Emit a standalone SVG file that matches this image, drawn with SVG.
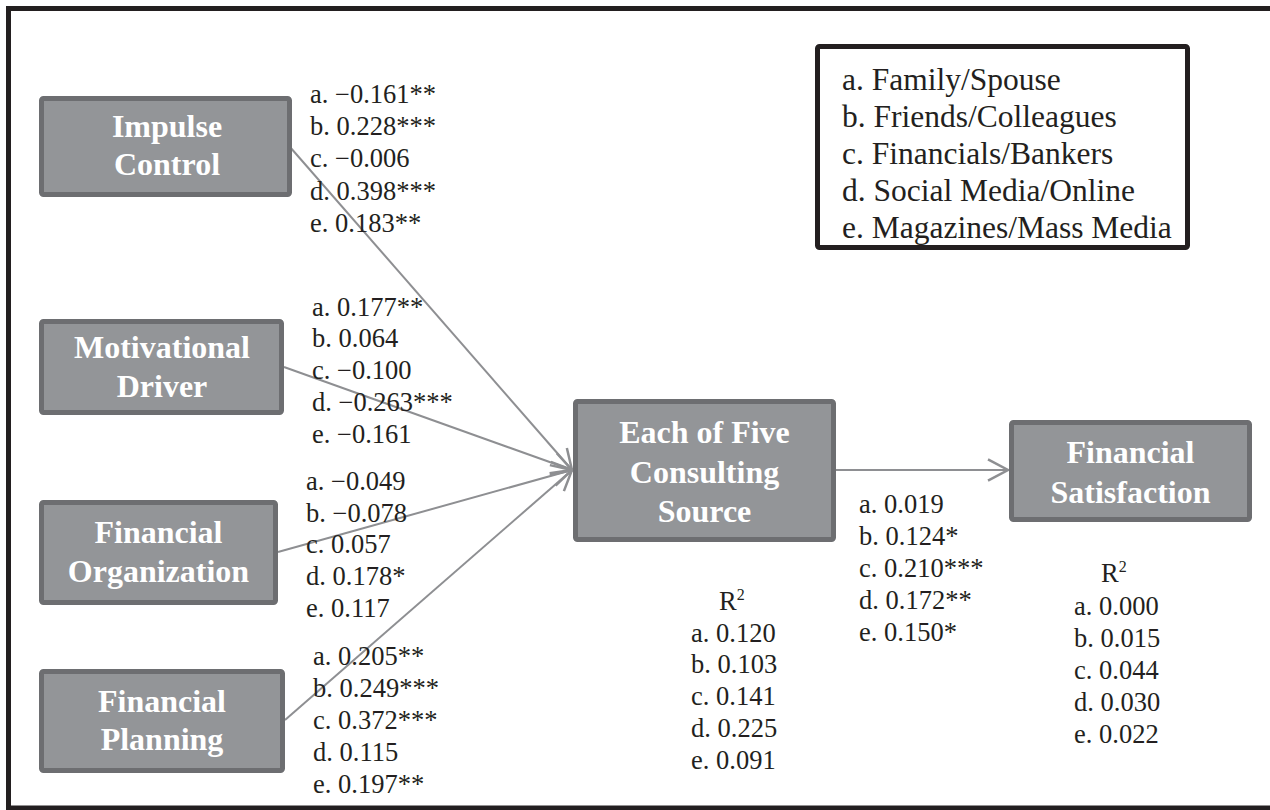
<svg xmlns="http://www.w3.org/2000/svg" width="1270" height="810" viewBox="0 0 1270 810">
<style>
.box{fill:#939598;stroke:#6d6e71;stroke-width:5}
.bt{font-family:"Liberation Serif","Times New Roman",serif;font-weight:bold;font-size:32px;fill:#ffffff;text-anchor:middle}
.lb{font-family:"Liberation Serif","Times New Roman",serif;font-size:26.5px;fill:#231f20}
.lg{font-family:"Liberation Serif","Times New Roman",serif;font-size:31.5px;fill:#231f20}
.sup{font-size:16px}
.cn{stroke:#8e8f92;stroke-width:2;fill:none}
</style>
<defs>
<marker id="ah" markerUnits="userSpaceOnUse" markerWidth="30" markerHeight="30" refX="0" refY="0" viewBox="-20 -12 24 24" orient="auto" overflow="visible">
<path d="M-16,-8.5 L0,0 L-16,8.5" fill="none" stroke="#8e8f92" stroke-width="2"/>
</marker>
</defs>
<rect x="0" y="0" width="1270" height="810" fill="#ffffff"/>
<rect id="frame" x="8.5" y="8.5" width="1280" height="799.5" fill="none" stroke="#231f20" stroke-width="5"/>

<g id="connectors">
<line class="cn" x1="290" y1="147" x2="572" y2="470" marker-end="url(#ah)"/>
<line class="cn" x1="284" y1="367" x2="572" y2="470" marker-end="url(#ah)"/>
<line class="cn" x1="278" y1="552" x2="572" y2="470" marker-end="url(#ah)"/>
<line class="cn" x1="285" y1="720" x2="572" y2="470" marker-end="url(#ah)"/>
<line class="cn" x1="836" y1="470" x2="1008" y2="470" marker-end="url(#ah)"/>
</g>

<g id="impulse-control">
<rect class="box" x="41.5" y="98.5" width="248" height="96" rx="2"/>
<text class="bt" x="167" y="137">Impulse</text>
<text class="bt" x="167" y="175">Control</text>
</g>

<g id="motivational-driver">
<rect class="box" x="41.5" y="321.5" width="240" height="91" rx="2"/>
<text class="bt" x="162" y="358">Motivational</text>
<text class="bt" x="162" y="397">Driver</text>
</g>

<g id="financial-organization">
<rect class="box" x="41.5" y="502.5" width="234" height="100" rx="2"/>
<text class="bt" x="158.5" y="543">Financial</text>
<text class="bt" x="158.5" y="582">Organization</text>
</g>

<g id="financial-planning">
<rect class="box" x="41.5" y="671.5" width="241" height="99" rx="2"/>
<text class="bt" x="162" y="712">Financial</text>
<text class="bt" x="162" y="750">Planning</text>
</g>

<g id="consulting-source">
<rect class="box" x="575.5" y="401.5" width="258" height="138" rx="2"/>
<text class="bt" x="704.5" y="443">Each of Five</text>
<text class="bt" x="704.5" y="482.5">Consulting</text>
<text class="bt" x="704.5" y="522">Source</text>
</g>

<g id="financial-satisfaction">
<rect class="box" x="1011.5" y="422.5" width="238" height="97" rx="2"/>
<text class="bt" x="1130.5" y="463">Financial</text>
<text class="bt" x="1130.5" y="503">Satisfaction</text>
</g>

<g id="legend">
<rect x="817.5" y="46.5" width="370" height="201" rx="2" fill="#ffffff" stroke="#231f20" stroke-width="5"/>
<text class="lg" x="842" y="90">a. Family/Spouse</text>
<text class="lg" x="842" y="127">b. Friends/Colleagues</text>
<text class="lg" x="842" y="164">c. Financials/Bankers</text>
<text class="lg" x="842" y="201">d. Social Media/Online</text>
<text class="lg" x="842" y="238">e. Magazines/Mass Media</text>
</g>

<g id="labels-impulse">
<text class="lb" x="310" y="103">a. −0.161**</text>
<text class="lb" x="310" y="135">b. 0.228***</text>
<text class="lb" x="310" y="167">c. −0.006</text>
<text class="lb" x="310" y="200">d. 0.398***</text>
<text class="lb" x="310" y="232">e. 0.183**</text>
</g>

<g id="labels-motivational">
<text class="lb" x="312" y="316">a. 0.177**</text>
<text class="lb" x="312" y="347">b. 0.064</text>
<text class="lb" x="312" y="379">c. −0.100</text>
<text class="lb" x="312" y="411">d. −0.263***</text>
<text class="lb" x="312" y="443">e. −0.161</text>
</g>

<g id="labels-organization">
<text class="lb" x="306" y="490">a. −0.049</text>
<text class="lb" x="306" y="522">b. −0.078</text>
<text class="lb" x="306" y="553">c. 0.057</text>
<text class="lb" x="306" y="585">d. 0.178*</text>
<text class="lb" x="306" y="617">e. 0.117</text>
</g>

<g id="labels-planning">
<text class="lb" x="313" y="665">a. 0.205**</text>
<text class="lb" x="313" y="697">b. 0.249***</text>
<text class="lb" x="313" y="729">c. 0.372***</text>
<text class="lb" x="313" y="761">d. 0.115</text>
<text class="lb" x="313" y="793">e. 0.197**</text>
</g>

<g id="labels-satisfaction-path">
<text class="lb" x="859" y="513">a. 0.019</text>
<text class="lb" x="859" y="545">b. 0.124*</text>
<text class="lb" x="859" y="577">c. 0.210***</text>
<text class="lb" x="859" y="609">d. 0.172**</text>
<text class="lb" x="859" y="641">e. 0.150*</text>
</g>

<g id="r2-consulting">
<text class="lb" x="719" y="610">R<tspan class="sup" dy="-10">2</tspan></text>
<text class="lb" x="691" y="642">a. 0.120</text>
<text class="lb" x="691" y="673">b. 0.103</text>
<text class="lb" x="691" y="705">c. 0.141</text>
<text class="lb" x="691" y="737">d. 0.225</text>
<text class="lb" x="691" y="769">e. 0.091</text>
</g>

<g id="r2-satisfaction">
<text class="lb" x="1101" y="582">R<tspan class="sup" dy="-10">2</tspan></text>
<text class="lb" x="1074" y="615">a. 0.000</text>
<text class="lb" x="1074" y="647">b. 0.015</text>
<text class="lb" x="1074" y="679">c. 0.044</text>
<text class="lb" x="1074" y="711">d. 0.030</text>
<text class="lb" x="1074" y="743">e. 0.022</text>
</g>
</svg>
